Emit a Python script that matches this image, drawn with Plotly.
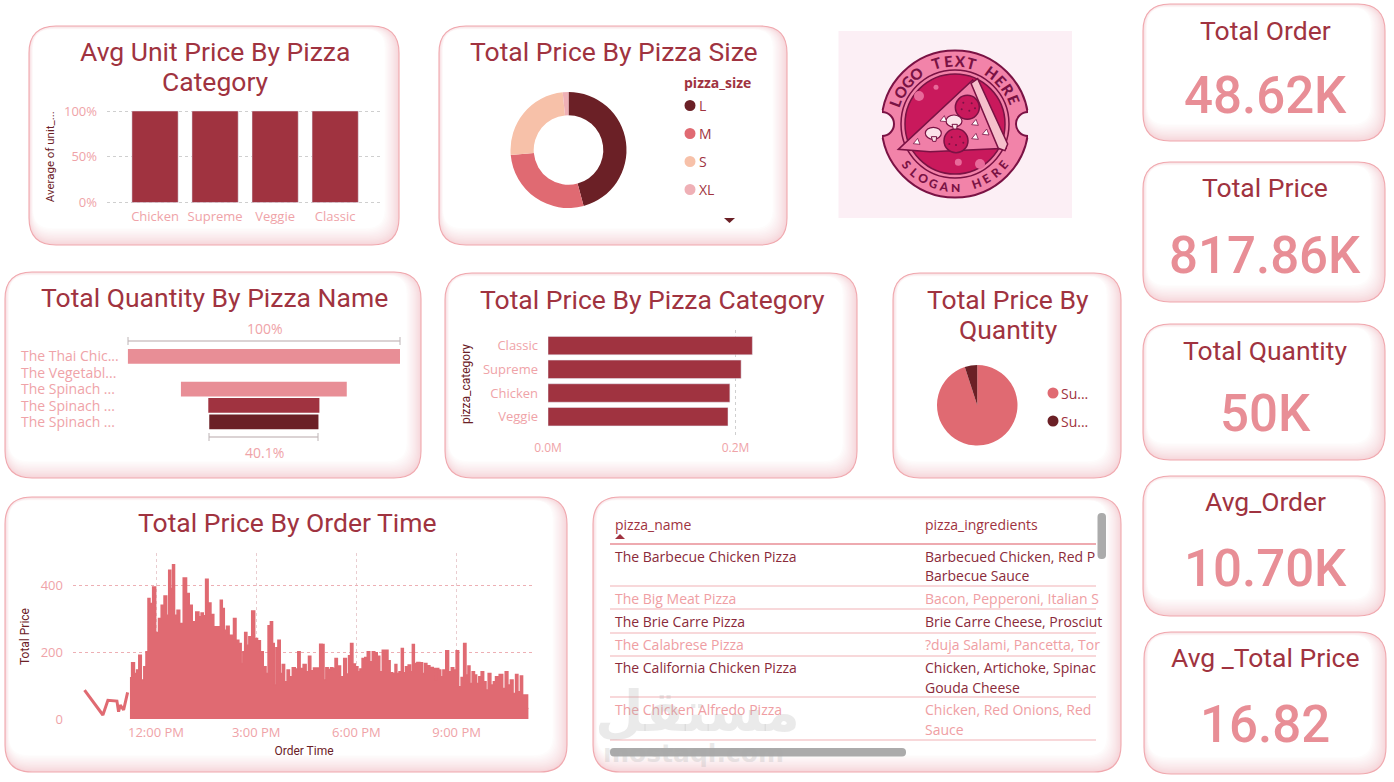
import numpy as np
import plotly.graph_objects as go

W = 1394
H = 782

TITLE_FONT = "Roboto"
BODY_FONT = "Open Sans"
DARK = "#6B2026"
WINE = "#A03340"
ROSE = "#E06A72"
PINK = "#E88E96"
TICK = "#EFA3A8"

# Avg unit price card
unit_categories = ["Chicken", "Supreme", "Veggie", "Classic"]
unit_share = [1.0, 1.0, 1.0, 1.0]

# Donut card
size_labels = ["L", "M", "S", "XL"]
size_values = [45.8, 27.8, 24.8, 1.6]
size_colors = [DARK, ROSE, "#F7C1A9", "#EFB0B6"]

# Funnel card
funnel_labels = ["The Thai Chic...", "The Vegetabl...", "The Spinach ...", "The Spinach ...", "The Spinach ..."]
funnel_values = [100, 0, 60.9, 40.8, 40.1]
funnel_colors = [PINK, PINK, PINK, WINE, DARK]

# Category bars
price_categories = ["Classic", "Supreme", "Chicken", "Veggie"]
price_values = [0.218, 0.206, 0.194, 0.192]

# Quantity pie
qty_names = ["Sum of quantity", "Sum of unit_price"]
qty_legend = ["Su...", "Su..."]
qty_values = [95, 5]
qty_colors = [ROSE, DARK]

# Order time line, before the rush
morning_hours = [9.86, 10.41, 10.56, 10.83, 10.88, 10.93, 11.03, 11.15]
morning_price = [87, 12, 56, 54, 22, 42, 27, 80]

# Order time, top of the band
order_hours = [
    11.22, 11.32, 11.39, 11.45, 11.52, 11.60, 11.67, 11.73, 11.79, 11.85, 11.95, 12.03, 12.12, 12.19, 12.29,
    12.35, 12.41, 12.47, 12.52, 12.59, 12.67, 12.75, 12.88, 12.95, 13.04, 13.13, 13.25, 13.32, 13.38, 13.45,
    13.52, 13.60, 13.69, 13.77, 13.90, 13.95, 14.02, 14.07, 14.15, 14.23, 14.29, 14.35, 14.44, 14.52, 14.58,
    14.62, 14.69, 14.75, 14.81, 14.92, 14.99, 15.09, 15.16, 15.26, 15.33, 15.38, 15.47, 15.51, 15.57, 15.61,
    15.69, 15.75, 15.81, 15.89, 15.96, 16.03, 16.13, 16.21, 16.28, 16.35, 16.46, 16.53, 16.60, 16.67, 16.76,
    16.86, 16.94, 17.01, 17.05, 17.12, 17.19, 17.26, 17.33, 17.39, 17.47, 17.58, 17.66, 17.74, 17.79, 17.86,
    17.93, 18.01, 18.08, 18.13, 18.21, 18.29, 18.36, 18.44, 18.51, 18.59, 18.66, 18.74, 18.81, 18.91, 18.98,
    19.04, 19.13, 19.18, 19.24, 19.31, 19.38, 19.43, 19.51, 19.59, 19.65, 19.70, 19.77, 19.85, 19.95, 20.01,
    20.07, 20.15, 20.25, 20.35, 20.37, 20.43, 20.50, 20.55, 20.63, 20.72, 20.80, 20.88, 20.95, 21.02, 21.10,
    21.17, 21.25, 21.31, 21.37, 21.43, 21.50, 21.57, 21.63, 21.70, 21.77, 21.85, 21.91, 21.98, 22.07, 22.13,
    22.20, 22.35, 22.41, 22.50, 22.57, 22.65, 22.73, 22.80, 22.87, 22.95, 23.00, 23.10, 23.15,
]
order_price = [
    124, 169, 137, 147, 192, 117, 157, 202, 362, 347, 397, 260, 302, 342, 370,
    312, 447, 392, 464, 312, 327, 287, 424, 377, 342, 292, 322, 307, 319, 310,
    420, 349, 314, 277, 277, 357, 332, 267, 279, 252, 252, 302, 237, 227, 167,
    202, 260, 222, 247, 325, 242, 235, 202, 157, 137, 280, 292, 227, 102, 214,
    237, 137, 164, 112, 147, 127, 154, 150, 202, 152, 164, 142, 189, 145, 153,
    153, 225, 224, 117, 154, 149, 154, 152, 182, 159, 127, 182, 135, 190, 227,
    165, 157, 142, 150, 182, 185, 202, 172, 202, 199, 189, 142, 207, 207, 175,
    139, 137, 164, 137, 142, 212, 139, 157, 162, 142, 224, 167, 170, 169, 137,
    167, 160, 155, 152, 119, 152, 147, 127, 147, 205, 142, 154, 147, 205, 97,
    125, 227, 132, 159, 107, 142, 132, 107, 127, 142, 112, 87, 137, 102, 112,
    127, 134, 92, 142, 102, 117, 77, 134, 82, 129, 72, 72, 32,
]
time_ticks = [12, 15, 18, 21]
time_tick_labels = ["12:00 PM", "3:00 PM", "6:00 PM", "9:00 PM"]

# Table rows
table_names = ["The Barbecue Chicken Pizza", "The Big Meat Pizza", "The Brie Carre Pizza",
               "The Calabrese Pizza", "The California Chicken Pizza", "The Chicken Alfredo Pizza"]
table_ingredients = [["Barbecued Chicken, Red P", "Barbecue Sauce"], ["Bacon, Pepperoni, Italian S"],
                     ["Brie Carre Cheese, Prosciut"], ["?duja Salami, Pancetta, Tor"],
                     ["Chicken, Artichoke, Spinac", "Gouda Cheese"], ["Chicken, Red Onions, Red", "Sauce"]]

# KPI cards
kpi_titles = ["Total Order", "Total Price", "Total Quantity", "Avg_Order", "Avg _Total Price"]
kpi_values = ["48.62K", "817.86K", "50K", "10.70K", "16.82"]


fig = go.Figure()
shapes = []
notes = []


def dom_x(a, b):
    return [a / W, b / W]


def dom_y(a, b):
    return [1 - b / H, 1 - a / H]


def note(x, y, text, size, color, font=BODY_FONT, anchor="center", weight=None, angle=0):
    f = dict(size=size, color=color, family=font)
    if weight:
        f["weight"] = weight
    # annotations carry a little padding on the left
    if anchor == "left":
        x = x - 2
    notes.append(dict(x=x, y=y, xref="x", yref="y", text=text, showarrow=False, font=f,
                      xanchor=anchor, yanchor="middle", textangle=angle))


def round_path(x0, y0, x1, y1, r):
    return (f"M{x0 + r},{y0} L{x1 - r},{y0} Q{x1},{y0} {x1},{y0 + r} L{x1},{y1 - r} Q{x1},{y1} {x1 - r},{y1} "
            f"L{x0 + r},{y1} Q{x0},{y1} {x0},{y1 - r} L{x0},{y0 + r} Q{x0},{y0} {x0 + r},{y0} Z")


def add_shape(**kw):
    kw.setdefault("xref", "x")
    kw.setdefault("yref", "y")
    kw.setdefault("layer", "below")
    shapes.append(kw)


def card(x0, y0, x1, y1, r=27):
    # soft pink glow inside the edge, heavier bottom and right
    steps = 13
    for i in range(steps):
        f = (i / (steps - 1)) ** 0.8
        c = [int(246 + (255 - 246) * f), int(214 + (255 - 214) * f), int(218 + (255 - 218) * f)]
        add_shape(type="path", path=round_path(x0 + 0.35 * i, y0 + 0.3 * i, x1 - 1.2 * i, y1 - 1.4 * i, max(r - i * 0.7, 6)),
                  fillcolor=f"rgb({c[0]},{c[1]},{c[2]})", line=dict(width=0))
    add_shape(type="path", path=round_path(x0, y0, x1, y1, r), line=dict(color="#F0A8AE", width=1.1))


def circle(cx, cy, r, fill, line=None, w=0, ry=None):
    ry = r if ry is None else ry
    add_shape(type="circle", x0=cx - r, x1=cx + r, y0=cy - ry, y1=cy + ry, fillcolor=fill,
              line=dict(color=line or fill, width=w))


def poly(pts, fill, line=None, w=0):
    p = "M" + " L".join(f"{a},{b}" for a, b in pts) + " Z"
    add_shape(type="path", path=p, fillcolor=fill, line=dict(color=line or fill, width=w))


def seg(x0, y0, x1, y1, color, w=1):
    add_shape(type="line", x0=x0, y0=y0, x1=x1, y1=y1, line=dict(color=color, width=w))


# all cards
for c in [(29, 26, 399, 245), (439, 26, 787, 245), (5, 272, 421, 478), (445, 273, 857, 478), (893, 273, 1121, 478),
          (5, 497, 567, 772), (593, 497, 1121, 772), (1143, 4, 1385, 141), (1143, 162, 1385, 302),
          (1143, 324, 1385, 460), (1143, 476, 1385, 616), (1144, 632, 1386, 774)]:
    card(*c)

# card titles
for cx, cy, t in [(215, 51, "Avg Unit Price By Pizza"), (215, 81, "Category"), (614, 51, "Total Price By Pizza Size"),
                  (214, 297, "Total Quantity By Pizza Name"), (652, 299, "Total Price By Pizza Category"),
                  (1008, 299, "Total Price By"), (1008, 329, "Quantity"), (287, 522, "Total Price By Order Time")]:
    note(cx, cy, t, 26.5, WINE, TITLE_FONT)

# kpi column
kpi_title_y = [30, 187, 350, 501, 657]
kpi_value_y = [95, 255, 413, 568, 724]
for t, v, ty, vy in zip(kpi_titles, kpi_values, kpi_title_y, kpi_value_y):
    note(1265, ty, t, 26.5, WINE, TITLE_FONT)
    note(1265, vy, v, 51, PINK, TITLE_FONT, weight=500)

# avg unit price bars
fig.add_trace(go.Bar(x=list(range(4)), y=unit_share, marker_color=WINE, width=0.77, xaxis="x2", yaxis="y2",
                     showlegend=False))
fig.update_layout(
    xaxis2=dict(domain=dom_x(107, 382), range=[-0.8, 3.78], tickvals=list(range(4)), ticktext=unit_categories,
                anchor="y2", showgrid=False, zeroline=False, ticklabelstandoff=3,
                tickfont=dict(size=13, color=TICK, family=BODY_FONT)),
    yaxis2=dict(domain=dom_y(110, 203.5), range=[-0.011, 1.011], anchor="x2", tickvals=[0, 0.5, 1],
                ticktext=["0%", "50%", "100%"], gridcolor="#CFCFCF", griddash="dot", zeroline=False,
                tickfont=dict(size=13, color=TICK, family=BODY_FONT), ticklabelstandoff=9,
                title=dict(text="Average of unit_...", standoff=6, font=dict(size=11.5, color=DARK, family=TITLE_FONT))),
)

# size donut
fig.add_trace(go.Pie(values=size_values, labels=size_labels, hole=0.6, sort=False, direction="clockwise", rotation=0,
                     marker=dict(colors=size_colors), textinfo="none", showlegend=False,
                     domain=dict(x=dom_x(510, 627), y=dom_y(92, 208))))
note(684, 82, "pizza_size", 14, WINE, BODY_FONT, anchor="left", weight=700)
for i, (lab, col) in enumerate(zip(size_labels, size_colors)):
    ly_row = 105.5 + 28 * i
    circle(690, ly_row, 5.5, col)
    note(699, ly_row, lab, 14, WINE, BODY_FONT, anchor="left")
poly([(724, 218), (735, 218), (729.5, 223)], DARK)

# funnel
fig.add_trace(go.Funnel(x=funnel_values, y=list(range(5)), orientation="h", marker=dict(color=funnel_colors),
                        connector=dict(visible=False), textinfo="none", xaxis="x3", yaxis="y3", showlegend=False))
fig.update_layout(
    funnelgap=0.1,
    xaxis3=dict(domain=dom_x(127.7, 400), range=[-50, 50], anchor="y3", visible=False),
    yaxis3=dict(domain=dom_y(340, 438.2), range=[5, -1], anchor="x3", visible=False),
)
for i, lab in enumerate(funnel_labels):
    note(21, 355.5 + 16.6 * i, lab, 14, TICK, BODY_FONT, anchor="left")
note(265, 328, "100%", 14, TICK)
note(264, 452, "40.1%", 14, TICK)
for a, b, y in [(128, 400, 341), (209, 318, 437)]:
    seg(a, y, b, y, "#CFC4C6", 1.5)
    seg(a, y - 4, a, y + 4, "#BDB4B6", 1)
    seg(b, y - 4, b, y + 4, "#BDB4B6", 1)

# price by category bars
fig.add_trace(go.Bar(x=price_values, y=list(range(4)), orientation="h", marker_color=WINE, width=0.78,
                     xaxis="x4", yaxis="y4", showlegend=False))
fig.update_layout(
    xaxis4=dict(domain=dom_x(548, 770), range=[0, 0.2368], anchor="y4", tickvals=[0, 0.2], ticktext=["0.0M", "0.2M"],
                gridcolor="#CFCFCF", griddash="dot", zeroline=False, ticklabelstandoff=1,
                tickfont=dict(size=12, color=TICK, family=BODY_FONT)),
    yaxis4=dict(domain=dom_y(330, 438), range=[3.9, -0.66], anchor="x4", tickvals=list(range(4)),
                ticktext=price_categories, showgrid=False, zeroline=False, ticklabelstandoff=9,
                tickfont=dict(size=13, color=TICK, family=BODY_FONT),
                title=dict(text="pizza_category", standoff=9, font=dict(size=12, color=DARK, family=TITLE_FONT))),
)

# quantity pie
fig.add_trace(go.Pie(values=qty_values, labels=qty_names, sort=False, direction="clockwise", rotation=0,
                     marker=dict(colors=qty_colors), textinfo="none", showlegend=False,
                     domain=dict(x=dom_x(937, 1017.5), y=dom_y(365, 445.5))))
for i, (lab, col) in enumerate(zip(qty_legend, qty_colors)):
    ly_row = 393 + 28 * i
    circle(1053, ly_row, 5.5, col)
    note(1061, ly_row, lab, 14, WINE, BODY_FONT, anchor="left")

# order time
fig.add_trace(go.Scatter(x=morning_hours, y=morning_price, mode="lines", line=dict(color=ROSE, width=3),
                         xaxis="x5", yaxis="y5", showlegend=False))
fig.add_trace(go.Scatter(x=order_hours, y=order_price, mode="lines", line=dict(color=ROSE, width=1.5, shape="hvh"),
                         fill="tozeroy", fillcolor=ROSE, xaxis="x5", yaxis="y5", showlegend=False))
fig.update_layout(
    xaxis5=dict(domain=dom_x(73, 535), range=[9.515, 23.347], anchor="y5", tickvals=time_ticks, ticktext=time_tick_labels,
                gridcolor="#E9CDD0", griddash="dot", zeroline=False, ticklabelstandoff=3,
                tickfont=dict(size=13, color=TICK, family=BODY_FONT),
                title=dict(text="Order Time", standoff=6, font=dict(size=12, color=DARK, family=TITLE_FONT))),
    yaxis5=dict(domain=dom_y(553, 720), range=[-3, 499], anchor="x5", tickvals=[0, 200, 400], gridcolor="#EDAFB4",
                griddash="dot", zeroline=False, tickfont=dict(size=13, color=TICK, family=BODY_FONT), ticklabelstandoff=9,
                title=dict(text="Total Price", standoff=8, font=dict(size=12, color=DARK, family=TITLE_FONT))),
)

# table
TABLE_DARK = "#8A2A3A"
TABLE_LIGHT = "#EF9EA3"
note(615, 524.5, "pizza_name", 14, WINE, BODY_FONT, anchor="left")
note(925, 524.5, "pizza_ingredients", 14, WINE, BODY_FONT, anchor="left")
poly([(615, 539), (625, 539), (620, 534)], WINE)
seg(610, 544, 1096, 544, PINK, 1.6)
row_tops = [556, 598, 621.6, 644.7, 667.7, 709.7]
row_lines = [586, 609, 633, 656, 697, 740]
for i, (name, ingr) in enumerate(zip(table_names, table_ingredients)):
    col = TABLE_DARK if i % 2 == 0 else TABLE_LIGHT
    note(615, row_tops[i], name, 14, col, BODY_FONT, anchor="left")
    for j, txt in enumerate(ingr):
        note(925, row_tops[i] + 19.3 * j, txt, 14, col, BODY_FONT, anchor="left")
    seg(610, row_lines[i], 1096, row_lines[i], "#F2B1B5", 1.2)
add_shape(type="path", path=round_path(1097.5, 513, 1106, 559, 4), fillcolor="#ABABAB", line=dict(width=0), layer="above")
add_shape(type="path", path=round_path(610, 748, 906, 756.5, 4), fillcolor="#ABABAB", line=dict(width=0), layer="above")
note(697, 711, "مستقل", 56, "rgba(170,170,170,0.25)", "DejaVu Sans", weight=700)
note(693, 753, "mostaql.com", 25, "rgba(170,170,170,0.25)", "DejaVu Sans", weight=700)

# logo
BADGE = "#F283A9"
MAGENTA = "#C9195C"
OUTLINE = "#7A1244"
LOGO_BG = "#FCEFF5"


def lx(v):
    return 830 + v / 3


def ly(v):
    return 20 + v / 3


add_shape(type="rect", x0=838.5, x1=1072, y0=31, y1=218, fillcolor=LOGO_BG, line=dict(width=0))
circle(955, 124, 73.5, BADGE, OUTLINE, 2)
for side in (-1, 1):
    circle(955 + side * 73, 124, 12, LOGO_BG, OUTLINE, 2)
    a, b = sorted([955 + side * 73, 955 + side * 88])
    add_shape(type="rect", x0=a, x1=b, y0=110, y1=138, fillcolor=LOGO_BG, line=dict(width=0))
circle(955, 124, 54, BADGE, OUTLINE, 1.5)
circle(955, 124, 50, MAGENTA, OUTLINE, 1.5)
circle(lx(267), ly(228), 5, "#E86A9A")
circle(lx(318), ly(202), 2.5, "#E86A9A")
circle(lx(385), ly(427), 3.5, "#E86A9A")
circle(lx(450), ly(432), 5, "#E86A9A")
poly([(lx(205), ly(388)), (lx(428), ly(180)), (lx(528), ly(385)), (lx(300), ly(395))], "#F07FA8", OUTLINE, 1.5)
poly([(lx(423), ly(190)), (lx(443), ly(176)), (lx(533), ly(372)), (lx(525), ly(392)), (lx(505), ly(385))], "#F6BFCB", OUTLINE, 1.5)
circle(lx(412), ly(262), 12, MAGENTA, OUTLINE, 1.5)
circle(lx(378), ly(362), 12, MAGENTA, OUTLINE, 1.5)
for px_, py_ in [(400, 248), (425, 250), (395, 268), (418, 272), (435, 265), (365, 352), (390, 350), (358, 372), (378, 375), (400, 368)]:
    circle(lx(px_), ly(py_), 1, OUTLINE)
for mx, my in [(372, 303), (310, 340)]:
    circle(lx(mx), ly(my), 8, "#FBE3EA", OUTLINE, 1.2, ry=6)
    poly([(lx(mx - 6), ly(my + 10)), (lx(mx + 10), ly(my + 10)), (lx(mx + 8), ly(my + 24)), (lx(mx - 2), ly(my + 24))], "#FBE3EA", OUTLINE, 1)
for bx, by in [(340, 297), (435, 308), (467, 337), (435, 350), (260, 365)]:
    poly([(lx(bx - 10), ly(by + 6)), (lx(bx + 3), ly(by - 10)), (lx(bx + 10), ly(by + 8))], "#FFFFFF", OUTLINE, 0.8)


def arc_text(text, start, end, radius, size, bottom=False):
    for ch, ang in zip(text, np.linspace(start, end, len(text))):
        if ch == " ":
            continue
        rad = np.radians(ang)
        x = 955 + radius * np.cos(rad)
        y = 124 - radius * np.sin(rad)
        rot = 270 - ang if bottom else 90 - ang
        note(float(x), float(y), ch, size, OUTLINE, "Lato", weight=900, angle=float(rot))


arc_text("LOGO TEXT HERE", 160, 22, 63.5, 15)
arc_text("SLOGAN HERE", 220, 320, 63.5, 12, bottom=True)

fig.update_layout(
    width=W,
    height=H,
    margin=dict(l=0, r=0, t=0, b=0, autoexpand=False),
    paper_bgcolor="white",
    plot_bgcolor="rgba(0,0,0,0)",
    xaxis=dict(domain=[0, 1], range=[0, W], visible=False, fixedrange=True),
    yaxis=dict(domain=[0, 1], range=[H, 0], visible=False, fixedrange=True),
    shapes=shapes,
    annotations=notes,
    showlegend=False,
)

fig.write_html("out.html", config={"displayModeBar": False},
               post_script="document.body.style.margin='0';document.body.style.overflow='hidden';")
